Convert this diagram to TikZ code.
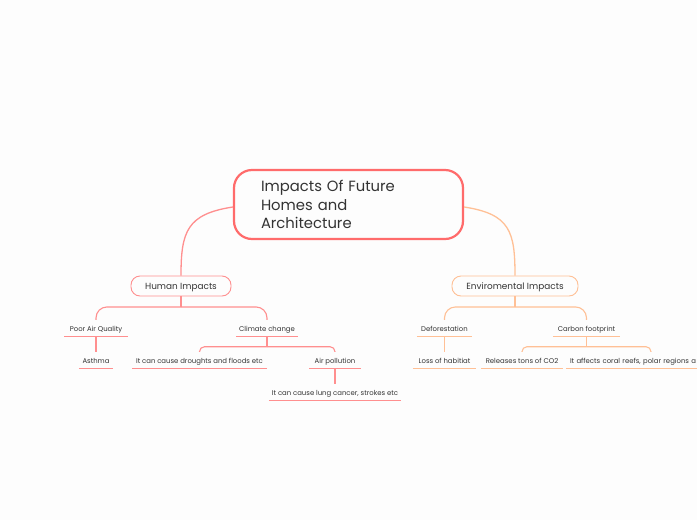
\documentclass[tikz,border=0pt]{standalone}
\usepackage{fontspec}
\setmainfont{Poppins}
\definecolor{redroot}{HTML}{FF6B6B}
\definecolor{redline}{HTML}{FF8F8F}
\definecolor{orangeline}{HTML}{FFC096}
\definecolor{textcol}{HTML}{333333}
\definecolor{paper}{HTML}{FDFDFD}

\begin{document}
\begin{tikzpicture}[x=1pt, y=1pt, text=textcol,
                    rootbox/.style={rectangle, draw=redroot, line width=2.2pt, rounded corners=18pt, minimum width=229pt, minimum height=69pt, inner xsep=27pt, inner ysep=0pt, text width=175pt, align=left, font=\fontsize{14.8}{18.7}\selectfont},
                    topicbox/.style={rectangle, draw, line width=0.9pt, rounded corners=9pt, minimum height=20pt, inner sep=0pt, text height=8pt, text depth=1.5pt, font=\fontsize{8.9}{10}\selectfont},
                    leaf/.style={rectangle, minimum height=16pt, inner sep=0pt, text height=7pt, text depth=0.5pt, font=\fontsize{6.9}{8}\selectfont}]
  \useasboundingbox (0,0) rectangle (697,-520);
  \fill[paper] (0,0) rectangle (697,-520);
  \clip (0,0) rectangle (697,-520);
  \node[rootbox] (root) at (348.5,-204.5) {Impacts Of Future\\Homes and\\Architecture};
  % left side
  \node[topicbox, draw=redline, minimum width=100pt, below of=root, node distance=81.5pt, xshift=-167.5pt] (human) {Human Impacts};
  \node[leaf, minimum width=63pt, below of=human, node distance=42pt, xshift=-85pt] (poor) {Poor Air Quality};
  \node[leaf, minimum width=61pt, below of=human, node distance=42pt, xshift=86pt] (climate) {Climate change};
  \node[leaf, minimum width=34pt, below of=poor, node distance=32pt] (asthma) {Asthma};
  \node[leaf, minimum width=134pt, below of=climate, node distance=32pt, xshift=-67.5pt] (droughts) {It can cause droughts and floods etc};
  \node[leaf, minimum width=51pt, below of=climate, node distance=32pt, xshift=68pt] (air) {Air pollution};
  \node[leaf, minimum width=132pt, below of=air, node distance=32pt] (lung) {It can cause lung cancer, strokes etc};
  % right side
  \node[topicbox, draw=orangeline, minimum width=126pt, below of=root, node distance=81.5pt, xshift=166.5pt] (enviro) {Enviromental Impacts};
  \node[leaf, minimum width=55pt, below of=enviro, node distance=42pt, xshift=-70.5pt] (defor) {Deforestation};
  \node[leaf, minimum width=67pt, below of=enviro, node distance=42pt, xshift=71.5pt] (carbon) {Carbon footprint};
  \node[leaf, minimum width=63pt, below of=defor, node distance=32pt] (habitat) {Loss of habitiat};
  \node[leaf, minimum width=82pt, below of=carbon, node distance=32pt, xshift=-64.5pt] (releases) {Releases tons of CO2};
  \node[leaf, minimum width=182pt, below of=carbon, node distance=32pt, xshift=70.5pt, align=left, text width=174pt] (coral) {It affects coral reefs, polar regions a};

  \foreach \leafname in {poor,climate,asthma,droughts,air,lung}
    \draw[redline, line width=1.1pt] (\leafname.south west) -- (\leafname.south east);
  \foreach \leafname in {defor,carbon,habitat,releases,coral}
    \draw[orangeline, line width=1.1pt] (\leafname.south west) -- (\leafname.south east);

  \draw[redline, line width=1.3pt] ([yshift=-2.5pt]root.west) .. controls +(-46,-7) and +(0,44) .. (human.north);
  \draw[orangeline, line width=1.3pt] ([yshift=-2.5pt]root.east) .. controls +(46,-7) and +(0,44) .. (enviro.north);

  \draw[redline, line width=1.1pt] (human.south) -- ++(0,-10.5) coordinate (humansplit);
  \draw[redline, line width=1.1pt, rounded corners=11pt] (humansplit) -| (poor.north);
  \draw[redline, line width=1.1pt, rounded corners=11pt] (humansplit) -| (climate.north);
  \draw[redline, line width=1.1pt] (poor.south) -- (asthma.north);
  \draw[redline, line width=1.1pt] (climate.south) -- ++(0,-10.5) coordinate (climatesplit);
  \draw[redline, line width=1.1pt, rounded corners=5pt] (climatesplit) -| (droughts.north);
  \draw[redline, line width=1.1pt, rounded corners=5pt] (climatesplit) -| (air.north);
  \draw[redline, line width=1.1pt] (air.south) -- (lung.north);

  \draw[orangeline, line width=1.1pt] (enviro.south) -- ++(0,-10.5) coordinate (envirosplit);
  \draw[orangeline, line width=1.1pt, rounded corners=11pt] (envirosplit) -| (defor.north);
  \draw[orangeline, line width=1.1pt, rounded corners=11pt] (envirosplit) -| (carbon.north);
  \draw[orangeline, line width=1.1pt] (defor.south) -- (habitat.north);
  \draw[orangeline, line width=1.1pt] (carbon.south) -- ++(0,-10.5) coordinate (carbonsplit);
  \draw[orangeline, line width=1.1pt, rounded corners=5pt] (carbonsplit) -| (releases.north);
  \draw[orangeline, line width=1.1pt, rounded corners=5pt] (carbonsplit) -| ([xshift=-6pt]coral.north);
\end{tikzpicture}
\end{document}
